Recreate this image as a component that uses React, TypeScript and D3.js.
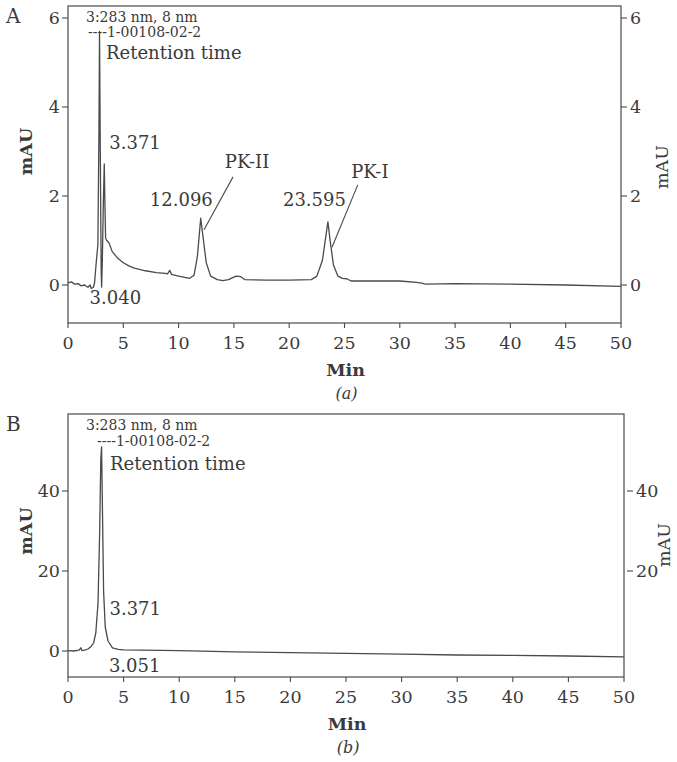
import React from "react";
import * as d3 from "d3";

// ---------- DATA ----------
// Panel A chromatogram (time in min, absorbance in mAU)
const timeA = [0, 0.3, 0.6, 0.9, 1.2, 1.5, 1.8, 2.0, 2.1, 2.3, 2.4, 2.55, 2.7, 2.8, 2.85, 2.92, 3.0, 3.04, 3.1, 3.2, 3.28, 3.34, 3.4, 3.5, 3.7, 4.0, 4.5, 5.0, 5.5, 6.0, 7.0, 8.0, 8.8, 9.0, 9.2, 9.35, 10.0, 11.0, 11.4, 11.7, 12.0, 12.2, 12.5, 12.9, 13.5, 14.0, 14.5, 15.2, 15.6, 16.0, 18, 20, 22, 22.5, 23.0, 23.5, 23.7, 24.0, 24.4, 24.8, 25.2, 25.6, 28, 30, 31.5, 32.0, 32.3, 35, 40, 45, 50];
const mauA = [0.05, 0.07, 0.02, 0.03, -0.02, 0.0, -0.05, 0.0, -0.08, -0.05, 0.05, 0.5, 0.9, 3.5, 5.7, 3.0, 0.3, -0.05, 0.5, 1.9, 2.72, 1.8, 1.05, 1.0, 0.95, 0.75, 0.6, 0.5, 0.43, 0.38, 0.32, 0.28, 0.26, 0.25, 0.33, 0.24, 0.2, 0.15, 0.22, 0.65, 1.5, 1.1, 0.5, 0.2, 0.12, 0.1, 0.12, 0.2, 0.19, 0.12, 0.11, 0.11, 0.12, 0.2, 0.55, 1.42, 1.0, 0.45, 0.2, 0.15, 0.14, 0.09, 0.09, 0.09, 0.06, 0.04, 0.02, 0.03, 0.02, 0.0, -0.03];

// Panel B chromatogram
const timeB = [0, 0.5, 1.0, 1.15, 1.25, 1.5, 1.8, 2.1, 2.3, 2.5, 2.7, 2.85, 2.95, 3.02, 3.1, 3.2, 3.35, 3.6, 4.0, 4.5, 5, 10, 15, 20, 25, 30, 35, 40, 45, 50];
const mauB = [0.1, 0.0, 0.2, 0.8, 0.1, 0.2, 0.5, 1.2, 2.0, 4.5, 12, 30, 48, 51, 35, 15, 6, 2.5, 0.8, 0.4, 0.3, 0.1, -0.2, -0.4, -0.6, -0.8, -1.0, -1.1, -1.25, -1.45];

const xTicks = [0, 5, 10, 15, 20, 25, 30, 35, 40, 45, 50];
const yTicksA = [0, 2, 4, 6];
const yTicksALeft = [0, 2, 4, 6];
const yTicksBLeft = [0, 20, 40];
const yTicksBRight = [20, 40];

const header1 = "3:283 nm, 8 nm";
const header2 = "----1-00108-02-2";
const header3 = "Retention time";

// ---------- STYLE ----------
const FONT = "'DejaVu Serif', 'Liberation Serif', serif";
const INK = "#3a3a3a";
const LINE = "#4a4a4a";

type PanelProps = {
  times: number[];
  values: number[];
  x0: number; x1: number;
  top: number; bottom: number;
  yDomain: [number, number];
  leftTicks: number[];
  rightTicks: number[];
  caption: string;
  letter: string;
  rightLabelX: number;
  rightLabelY: number;
  rightTickGap: number;
  children?: (x: d3.ScaleLinear<number, number>, y: d3.ScaleLinear<number, number>) => React.ReactNode;
};

function Panel(p: PanelProps) {
  const x = d3.scaleLinear().domain([0, 50]).range([p.x0, p.x1]);
  const y = d3.scaleLinear().domain(p.yDomain).range([p.bottom, p.top]);
  const pts = p.times.map((t, i) => [t, p.values[i]] as [number, number]);
  const line = d3.line<[number, number]>().x(d => x(d[0])).y(d => y(d[1]));
  const midX = (p.x0 + p.x1) / 2;
  return (
    <g>
      <rect x={p.x0} y={p.top} width={p.x1 - p.x0} height={p.bottom - p.top} fill="none" stroke={LINE} strokeWidth={1.2} />
      {xTicks.map(t => (
        <g key={"xt" + t}>
          <line x1={x(t)} x2={x(t)} y1={p.bottom} y2={p.bottom + 5} stroke={LINE} strokeWidth={1.1} />
          <text x={x(t)} y={p.bottom + 26} textAnchor="middle" fontFamily={FONT} fontSize={17.5} fill={INK}>{t}</text>
        </g>
      ))}
      {p.leftTicks.map(t => (
        <g key={"yl" + t}>
          <line x1={p.x0 - 6} x2={p.x0} y1={y(t)} y2={y(t)} stroke={LINE} strokeWidth={1.1} />
          <text x={p.x0 - 8} y={y(t) + 6} textAnchor="end" fontFamily={FONT} fontSize={17.5} fill={INK}>{t}</text>
        </g>
      ))}
      {p.rightTicks.map(t => (
        <g key={"yr" + t}>
          <line x1={p.x1 + p.rightTickGap} x2={p.x1 + p.rightTickGap + 6} y1={y(t)} y2={y(t)} stroke={LINE} strokeWidth={1.1} />
          <text x={p.x1 + p.rightTickGap + 9} y={y(t) + 6} textAnchor="start" fontFamily={FONT} fontSize={17.5} fill={INK}>{t}</text>
        </g>
      ))}
      <text transform={`translate(${p.x0 - 36},${(y(p.leftTicks[1]) + y(p.leftTicks[2])) / 2}) rotate(-90)`} textAnchor="middle" fontFamily={FONT} fontWeight="bold" fontSize={17.5} fill={INK}>mAU</text>
      <text transform={`translate(${p.rightLabelX},${p.rightLabelY}) rotate(-90)`} textAnchor="middle" fontFamily={FONT} fontSize={17.5} fill={INK}>mAU</text>
      <text x={midX + 1} y={p.bottom + 53} textAnchor="middle" fontFamily={FONT} fontWeight="bold" fontSize={17.5} fill={INK}>Min</text>
      <text x={midX + 2} y={p.bottom + 76} textAnchor="middle" fontFamily={FONT} fontStyle="italic" fontSize={16} fill={INK}>({p.caption})</text>
      <text x={6} y={p.top + 17} fontFamily={FONT} fontSize={20} fill={INK}>{p.letter}</text>
      <path d={line(pts) || ""} fill="none" stroke={LINE} strokeWidth={1.3} strokeLinejoin="round" />
      {p.children && p.children(x, y)}
    </g>
  );
}

export default function App() {
  return (
    <svg width={677} height={762} style={{ position: "absolute", left: 0, top: 0, background: "#fff" }}>
      <Panel
        times={timeA} values={mauA}
        x0={68} x1={621} top={6} bottom={323}
        yDomain={[-0.854, 6.27]}
        leftTicks={yTicksALeft} rightTicks={yTicksA}
        caption="a" letter="A"
        rightLabelX={668} rightLabelY={167} rightTickGap={0}
      >
        {(x, y) => (
          <g fontFamily={FONT} fill={INK}>
            <text x={86} y={y(6) + 4} fontSize={14}>{header1}</text>
            <text x={88} y={y(6) + 19} fontSize={14}>{header2}</text>
            <text x={106} y={y(6) + 41} fontSize={18}>{header3}</text>
            <text x={x(3.371) + 4} y={y(3.2) + 6} fontSize={18}>3.371</text>
            <text x={x(3.04) - 12} y={y(0) + 19} fontSize={18}>3.040</text>
            <text x={x(12.096) + 11} y={y(1.9) + 6} textAnchor="end" fontSize={18}>12.096</text>
            <text x={x(12.096) + 23} y={y(2.77) + 6} fontSize={18}>PK-II</text>
            <line x1={x(14.92)} y1={y(2.43)} x2={x(12.3)} y2={y(1.24)} stroke={LINE} strokeWidth={1.1} />
            <text x={x(23.595) + 17} y={y(1.9) + 6} textAnchor="end" fontSize={18}>23.595</text>
            <text x={x(25.6)} y={y(2.55) + 6} fontSize={18}>PK-I</text>
            <line x1={x(26.2)} y1={y(2.25)} x2={x(23.87)} y2={y(0.85)} stroke={LINE} strokeWidth={1.1} />
          </g>
        )}
      </Panel>
      <Panel
        times={timeB} values={mauB}
        x0={68} x1={624} top={414} bottom={677}
        yDomain={[-6.5, 59.25]}
        leftTicks={yTicksBLeft} rightTicks={yTicksBRight}
        caption="b" letter="B"
        rightLabelX={670} rightLabelY={545} rightTickGap={3}
      >
        {(x, y) => (
          <g fontFamily={FONT} fill={INK}>
            <text x={86} y={y(59.25) + 16} fontSize={14}>{header1}</text>
            <text x={97} y={y(59.25) + 32} fontSize={14}>{header2}</text>
            <text x={110} y={y(59.25) + 56} fontSize={18}>{header3}</text>
            <text x={x(3.371) + 4} y={y(10.5) + 6} fontSize={18}>3.371</text>
            <text x={x(3.051) + 7} y={y(-3.75) + 6} fontSize={18}>3.051</text>
          </g>
        )}
      </Panel>
    </svg>
  );
}
